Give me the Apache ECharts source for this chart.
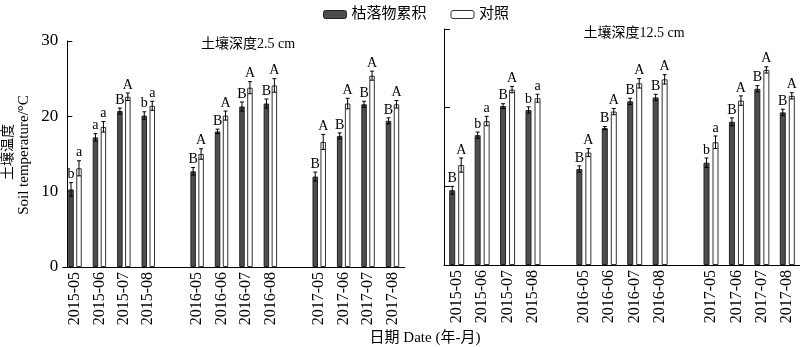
<!DOCTYPE html>
<html><head><meta charset="utf-8">
<script src="https://cdn.jsdelivr.net/npm/echarts@6/dist/echarts.min.js"></script>
<style>html,body{margin:0;padding:0;background:#fff}#c{width:800px;height:347px}</style>
</head><body><div id="c"></div>
<script>
// ---- data ----
const categories = ['2015-05','2015-06','2015-07','2015-08','','2016-05','2016-06','2016-07','2016-08','','2017-05','2017-06','2017-07','2017-08'];
const seriesNames = ['枯落物累积','对照'];
// depth 2.5 cm
const litter25 = [10.3,17.2,20.7,20.1, 12.7,18.0,21.3,21.7, 12.0,17.4,21.6,19.4];
const litter25Err = [0.9,0.5,0.4,0.5, 0.5,0.3,0.6,0.6, 0.6,0.4,0.4,0.4];
const litter25Sig = ['b','a','B','b', 'B','B','B','B', 'B','B','B','B'];
const ctrl25 = [13.1,18.6,22.6,21.4, 15.0,20.1,23.8,24.1, 16.6,21.7,25.4,21.6];
const ctrl25Err = [1.0,0.7,0.5,0.6, 0.7,0.6,0.8,0.9, 1.0,0.7,0.6,0.5];
const ctrl25Sig = ['a','a','A','a', 'A','A','A','A', 'A','A','A','A'];
// depth 12.5 cm
const litter125 = [9.5,16.5,20.2,19.7, 12.2,17.4,20.8,21.3, 13.0,18.2,22.4,19.4];
const litter125Err = [0.5,0.4,0.3,0.4, 0.4,0.2,0.4,0.4, 0.6,0.5,0.4,0.4];
const litter125Sig = ['B','b','B','b', 'B','B','B','B', 'b','B','B','B'];
const ctrl125 = [12.7,18.3,22.3,21.2, 14.3,19.5,23.1,23.6, 15.6,20.9,24.8,21.5];
const ctrl125Err = [0.9,0.6,0.4,0.5, 0.5,0.4,0.6,0.6, 0.8,0.6,0.4,0.4];
const ctrl125Sig = ['A','a','A','a', 'A','A','A','A', 'a','A','A','A'];
const yTicks = [0,10,20,30];

// map the 12 measurements onto non-blank category slots
const slots = categories.map((c,i)=>c===''?-1:i).filter(i=>i>=0);
function toCat(vals){ const out = categories.map(()=>null); slots.forEach((s,k)=>out[s]=vals[k]); return out; }
function toErr(vals, errs){ return slots.map((s,k)=>[s, vals[k], errs[k]]); }

const SERIF = '"Liberation Serif","Times New Roman","Noto Sans CJK SC",serif';
const DARK = '#4d4d4d';

function errRender(shift, letters){
  return function(params, api){
    const x = api.value(0), v = api.value(1), e = api.value(2);
    const c = api.coord([x, v]);
    const hi = api.coord([x, v+e]);
    const lo = api.coord([x, v-e]);
    const cx = c[0] + shift;
    const st = {stroke:'#000', lineWidth:1};
    return {type:'group', children:[
      {type:'line', shape:{x1:cx,y1:hi[1],x2:cx,y2:lo[1]}, style:st},
      {type:'line', shape:{x1:cx-2,y1:hi[1],x2:cx+2,y2:hi[1]}, style:st},
      {type:'line', shape:{x1:cx-2,y1:lo[1],x2:cx+2,y2:lo[1]}, style:st},
      {type:'text', style:{text:letters[params.dataIndex], x:cx, y:hi[1]-1, align:'center', verticalAlign:'bottom', font:'14px '+SERIF, fill:'#000'}}
    ]};
  };
}

function xAxisCfg(idx){
  return {type:'category', gridIndex:idx, data:categories, boundaryGap:true,
    axisLine:{lineStyle:{color:'#000',width:1}}, axisTick:{show:false},
    axisLabel:{rotate:90, interval:0, margin:5, color:'#000', fontSize:16, fontFamily:SERIF}};
}

const chart = echarts.init(document.getElementById('c'), null, {renderer:'canvas'});
chart.setOption({
  animation:false,
  backgroundColor:'#fff',
  legend:{left:318, top:2, itemWidth:23, itemHeight:8, itemGap:24,
    textStyle:{fontSize:15, color:'#000', fontFamily:SERIF},
    data:[{name:seriesNames[0], itemStyle:{color:DARK, borderColor:'#222', borderWidth:1}},
          {name:seriesNames[1], itemStyle:{color:'#fff', borderColor:'#333', borderWidth:1}}]},
  grid:[
    {left:62.8, width:341.9, top:41, bottom:80},
    {left:444, width:357, top:29, bottom:82}
  ],
  xAxis:[xAxisCfg(0), xAxisCfg(1)],
  yAxis:[
    {type:'value', gridIndex:0, min:yTicks[0], max:yTicks[yTicks.length-1], interval:10, offset:-4.5,
      axisLine:{show:true, lineStyle:{color:'#000',width:1}},
      axisTick:{show:true, inside:true, length:5, lineStyle:{color:'#000'}},
      axisLabel:{color:'#000', fontSize:17, fontFamily:SERIF, margin:9},
      splitLine:{show:false}},
    {type:'value', gridIndex:1, min:yTicks[0], max:yTicks[yTicks.length-1], interval:10,
      axisLine:{show:true, lineStyle:{color:'#000',width:1}},
      axisTick:{show:true, inside:true, length:6, lineStyle:{color:'#000'}},
      axisLabel:{show:false}, splitLine:{show:false}}
  ],
  graphic:[
    {type:'text', x:248, y:44, style:{text:'土壤深度2.5 cm', align:'center', verticalAlign:'middle', font:'14px '+SERIF, fill:'#000'}},
    {type:'text', x:634, y:33, style:{text:'土壤深度12.5 cm', align:'center', verticalAlign:'middle', font:'14px '+SERIF, fill:'#000'}},
    {type:'text', x:8, y:152, rotation:Math.PI/2, style:{text:'土壤温度', align:'center', verticalAlign:'middle', font:'14px '+SERIF, fill:'#000'}},
    {type:'text', x:24, y:155, rotation:Math.PI/2, style:{text:'Soil temperature/°C', align:'center', verticalAlign:'middle', font:'15px '+SERIF, fill:'#000'}},
    {type:'text', x:425, y:338, style:{text:'日期 Date (年-月)', align:'center', verticalAlign:'middle', font:'15px '+SERIF, fill:'#000'}}
  ],
  series:[
    {name:seriesNames[0], type:'bar', xAxisIndex:0, yAxisIndex:0, data:toCat(litter25), barWidth:5.5, barGap:'45%',
      itemStyle:{color:DARK, borderColor:'#222', borderWidth:1}},
    {name:seriesNames[1], type:'bar', xAxisIndex:0, yAxisIndex:0, data:toCat(ctrl25), barWidth:5.5, barGap:'45%',
      itemStyle:{color:'#fff', borderColor:'#333', borderWidth:1}},
    {name:seriesNames[0], type:'bar', xAxisIndex:1, yAxisIndex:1, data:toCat(litter125), barWidth:6, barGap:'50%',
      itemStyle:{color:DARK, borderColor:'#222', borderWidth:1}},
    {name:seriesNames[1], type:'bar', xAxisIndex:1, yAxisIndex:1, data:toCat(ctrl125), barWidth:6, barGap:'50%',
      itemStyle:{color:'#fff', borderColor:'#333', borderWidth:1}},
    {type:'custom', xAxisIndex:0, yAxisIndex:0, z:5, data:toErr(litter25, litter25Err), renderItem:errRender(-3.99, litter25Sig)},
    {type:'custom', xAxisIndex:0, yAxisIndex:0, z:5, data:toErr(ctrl25, ctrl25Err), renderItem:errRender(3.99, ctrl25Sig)},
    {type:'custom', xAxisIndex:1, yAxisIndex:1, z:5, data:toErr(litter125, litter125Err), renderItem:errRender(-4.5, litter125Sig)},
    {type:'custom', xAxisIndex:1, yAxisIndex:1, z:5, data:toErr(ctrl125, ctrl125Err), renderItem:errRender(4.5, ctrl125Sig)}
  ]
});
</script></body></html>
